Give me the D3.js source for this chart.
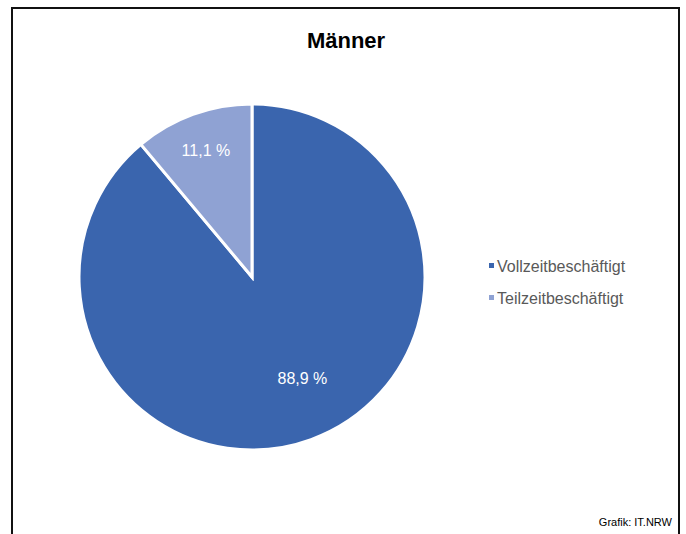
<!DOCTYPE html>
<html>
<head>
<meta charset="utf-8">
<script src="https://d3js.org/d3.v7.min.js"></script>
<style>
  body { margin: 0; background: #fff; font-family: "Liberation Sans", Arial, sans-serif; }
</style>
</head>
<body>
<div id="chart"></div>
<script>
// data
const categories = ['Vollzeitbeschäftigt', 'Teilzeitbeschäftigt']
const values = [88.9, 11.1]
const labels = ['88,9 %', '11,1 %']
const colors = ['#3A65AE', '#8FA2D3']

width = 686
height = 534
cx = 252
cy = 277
radius = 173
labelRadius = [0.65, 0.78]   // share of radius where each label sits
labelShift = [[12, -4], [0, 0]]

svg = d3.select('#chart')
  .append('svg')
  .attr('width', width)
  .attr('height', height)

// frame (no bottom edge visible)
svg.append('path')
  .attr('d', `M12 ${height + 5} L12 8 L679 8 L679 ${height + 5}`)
  .attr('fill', 'none')
  .attr('stroke', '#111')
  .attr('stroke-width', 2)

svg.append('text')
  .attr('x', 346)
  .attr('y', 48)
  .attr('text-anchor', 'middle')
  .attr('font-size', '22px')
  .attr('font-weight', 'bold')
  .attr('fill', '#000')
  .text('Männer')

pie = d3.pie().sort(null)
arcs = pie(values)

arc = d3.arc().innerRadius(0).outerRadius(radius)

g = svg.append('g').attr('transform', `translate(${cx} ${cy})`)

g.selectAll('path')
  .data(arcs)
  .join('path')
  .attr('d', arc)
  .attr('fill', (d, i) => colors[i])
  .attr('stroke', '#fff')
  .attr('stroke-width', 3)
  .attr('stroke-linejoin', 'miter')

g.selectAll('text')
  .data(arcs)
  .join('text')
  .attr('transform', (d, i) => {
    r = radius * labelRadius[i]
    c = d3.arc().innerRadius(r).outerRadius(r).centroid(d)
    return `translate(${c[0] + labelShift[i][0]} ${c[1] + labelShift[i][1]})`
  })
  .attr('text-anchor', 'middle')
  .attr('dy', '0.35em')
  .attr('font-size', '16px')
  .attr('fill', '#fff')
  .text((d, i) => labels[i])

// legend
legend = svg.append('g')
  .selectAll('g')
  .data(categories)
  .join('g')
  .attr('transform', (d, i) => `translate(489 ${266 + i * 32})`)

legend.append('rect')
  .attr('x', 0)
  .attr('y', -3)
  .attr('width', 5)
  .attr('height', 5)
  .attr('fill', (d, i) => colors[i])

legend.append('text')
  .attr('x', 8)
  .attr('dy', '0.35em')
  .attr('font-size', '16px')
  .attr('fill', '#595959')
  .text(d => d)

svg.append('text')
  .attr('x', 672)
  .attr('y', 526)
  .attr('text-anchor', 'end')
  .attr('font-size', '11px')
  .attr('fill', '#000')
  .text('Grafik: IT.NRW')
</script>
</body>
</html>
